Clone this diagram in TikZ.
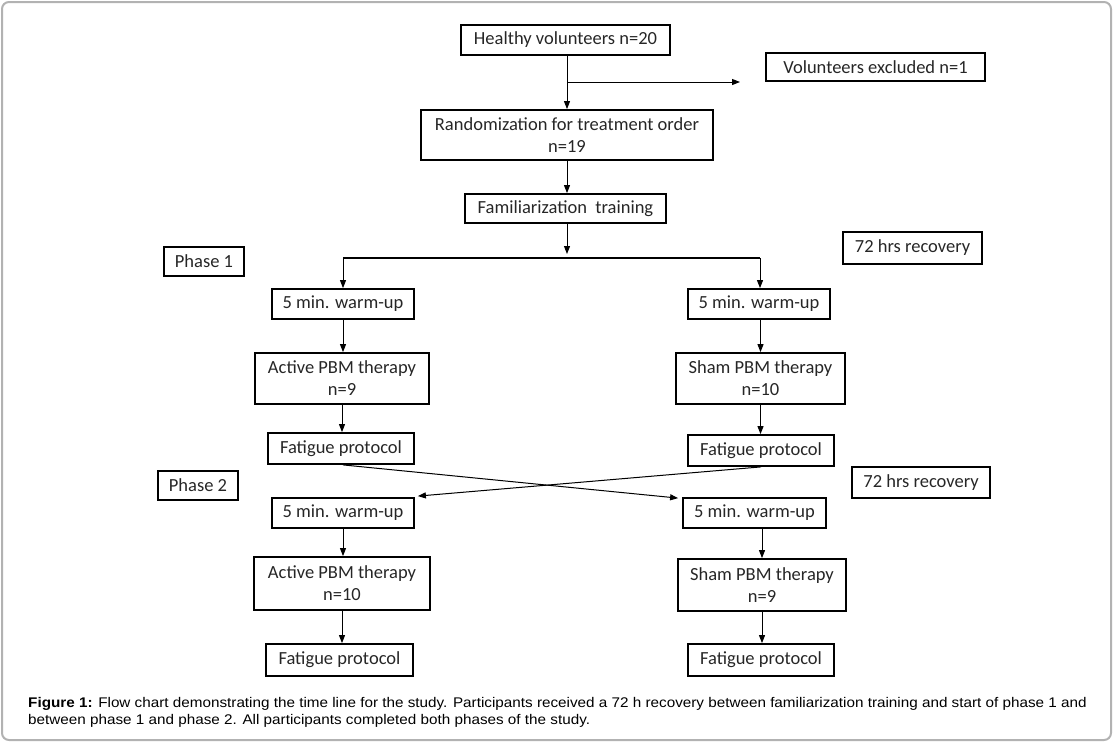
\documentclass[tikz,border=0pt]{standalone}
\usepackage{fontspec}
\setmainfont{Carlito}
\newfontfamily\capfont{Liberation Sans}[FakeStretch=1.09]
\usetikzlibrary{arrows.meta,calc}
\tikzset{
  box/.style={draw=black, line width=1.8pt, rectangle, inner sep=0pt, align=center,
    font=\fontsize{18.5}{22}\selectfont, text=black!85},
  arr/.style={line width=1pt, -{Triangle[length=8pt,width=6pt]}},
  capt/.style={anchor=base west, inner sep=0pt, font=\capfont\fontsize{14}{17}\selectfont},
}
\newcommand{\bx}[6]{\node[box, minimum width=#4pt, minimum height=#5pt] (#1) at (#2,#3) {#6};}
\begin{document}
\begin{tikzpicture}[x=1pt,y=-1pt]
\useasboundingbox (0,0) rectangle (1113,742);
\draw[draw=black!30, line width=2pt, rounded corners=7pt] (2,2) rectangle (1111,740);
\bx{hv}{565.5}{40}{209}{30}{Healthy volunteers n=20}
\bx{ex}{875.5}{67}{219}{28}{Volunteers excluded n=1}
\bx{rnd}{567}{135}{292}{50}{Randomization for treatment order\\n=19}
\bx{fam}{565.5}{208.5}{201}{29}{Familiarization\ \ training}
\bx{rec1}{912.5}{248}{139}{32}{72 hrs recovery}
\bx{ph1}{204}{261.5}{80}{29}{Phase 1}
\bx{w1}{343}{304}{142}{30}{5 min. warm-up}
\bx{w2}{759}{304}{142}{30}{5 min. warm-up}
\bx{a1}{342}{378.5}{174}{51}{Active PBM therapy\\n=9}
\bx{s1}{760.5}{378.5}{169}{51}{Sham PBM therapy\\n=10}
\bx{f1}{341}{448.5}{146}{31}{Fatigue protocol}
\bx{f2}{761}{450.5}{146}{31}{Fatigue protocol}
\bx{ph2}{198}{485.5}{80}{29}{Phase 2}
\bx{rec2}{921}{482.5}{138}{31}{72 hrs recovery}
\bx{w3}{343}{513}{142}{30}{5 min. warm-up}
\bx{w4}{754.5}{513}{143}{30}{5 min. warm-up}
\bx{a2}{342}{583.5}{176}{53}{Active PBM therapy\\n=10}
\bx{s2}{762}{585}{168}{52}{Sham PBM therapy\\n=9}
\bx{f3}{339.5}{660}{147}{32}{Fatigue protocol}
\bx{f4}{761}{660}{146}{32}{Fatigue protocol}
% connectors
\coordinate (hvx) at (567,55);
\coordinate (split) at (567,82);
\coordinate (exend) at (740,82);
\draw[arr] (hvx) -- (hvx |- rnd.north);
\draw[arr] (split) -- (exend);
\draw[arr] (rnd.south) -- (rnd.south |- fam.north);
\coordinate (famx) at (567,223);
\coordinate (barmid) at (567,254);
\coordinate (barL) at (343,258);
\coordinate (barR) at (760,258);
\draw[arr] (famx) -- (barmid);
\draw[line width=2pt] (barL) -- (barR);
\draw[arr] (barL) -- (barL |- w1.north);
\draw[arr] (barR) -- (barR |- w2.north);
\draw[arr] (w1.south) -- (w1.south |- a1.north);
\draw[arr] (w2.south -| s1.north) -- (s1.north);
\draw[arr] (a1.south) -- (a1.south |- f1.north);
\draw[arr] (s1.south) -- (s1.south |- f2.north);
\draw[arr] ($(f1.south)+(2,0)$) -- ($(w4.north west)+(-4,1)$);
\draw[arr] (f2.south) -- ($(w3.north east)+(3,-1)$);
\draw[arr] (w3.south) -- (w3.south |- a2.north);
\draw[arr] (w4.south -| s2.north) -- (s2.north);
\draw[arr] (a2.south) -- (a2.south |- f3.north);
\draw[arr] (s2.south) -- (s2.south |- f4.north);
% caption
\node[capt] (cap1) at (28,707)
  {\textbf{Figure 1:} Flow chart demonstrating the time line for the study. Participants received a 72 h recovery between familiarization training and start of phase 1 and};
\node[capt] (cap2) at (28,724.5)
  {between phase 1 and phase 2. All participants completed both phases of the study.};
\end{tikzpicture}
\end{document}
